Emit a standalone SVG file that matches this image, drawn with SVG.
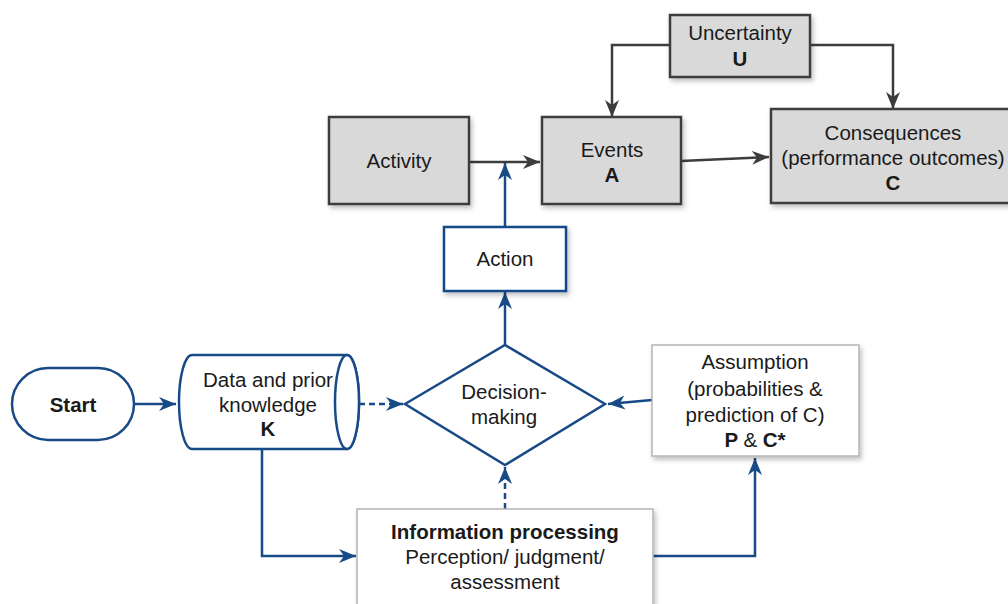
<svg xmlns="http://www.w3.org/2000/svg" width="1008" height="604" viewBox="0 0 1008 604">
<style>
text{font-family:"Liberation Sans",Arial,Helvetica,sans-serif;font-size:20.5px;fill:#1a1a1a;text-anchor:middle}
.b{font-weight:bold}
.gray{fill:#d9d9d9;stroke:#3c3c3c;stroke-width:2.5}
.blue{fill:#fff;stroke:#174a87;stroke-width:2.5}
.light{fill:#fff;stroke:#b4b4b4;stroke-width:1.5}
.cg{fill:none;stroke:#3c3c3c;stroke-width:2.5}
.cb{fill:none;stroke:#174a87;stroke-width:2.5}
.d{stroke-dasharray:6 4}
</style>
<defs>
<filter id="sh" x="-10%" y="-10%" width="130%" height="130%">
<feDropShadow dx="2" dy="3" stdDeviation="2.5" flood-color="#000" flood-opacity="0.25"/>
</filter>
<marker id="ag" markerUnits="userSpaceOnUse" markerWidth="18" markerHeight="16" refX="17" refY="8" orient="auto">
<path d="M0,1 L17,8 L0,15 L5,8 Z" fill="#3c3c3c"/>
</marker>
<marker id="ab" markerUnits="userSpaceOnUse" markerWidth="18" markerHeight="16" refX="17" refY="8" orient="auto">
<path d="M0,1 L17,8 L0,15 L5,8 Z" fill="#174a87"/>
</marker>
</defs>

<g id="connectors">
<path class="cg" d="M670,45 H612 V117" marker-end="url(#ag)"/>
<path class="cg" d="M810,45 H893 V109" marker-end="url(#ag)"/>
<path class="cg" d="M469,162 H540" marker-end="url(#ag)"/>
<path class="cg" d="M681,161 L769,157" marker-end="url(#ag)"/>
<path class="cb" d="M505,227 V163" stroke-width="2" marker-end="url(#ab)"/>
<path class="cb" d="M505,345 V292" marker-end="url(#ab)"/>
<path class="cb" d="M134,404 H176" marker-end="url(#ab)"/>
<path class="cb d" d="M359,404 H403" marker-end="url(#ab)"/>
<path class="cb" d="M652,400 L608,404" marker-end="url(#ab)"/>
<path class="cb d" d="M505,509 V467" marker-end="url(#ab)"/>
<path class="cb" d="M262,449 V556 H356" marker-end="url(#ab)"/>
<path class="cb" d="M653,556 H755 V458" marker-end="url(#ab)"/>
</g>

<g id="uncertainty">
<rect class="gray" x="670" y="15" width="140" height="62" filter="url(#sh)"/>
<text x="740" y="40">Uncertainty</text>
<text class="b" x="740" y="66">U</text>
</g>

<g id="activity">
<rect class="gray" x="329" y="117" width="140" height="87" filter="url(#sh)"/>
<text x="399" y="168">Activity</text>
</g>

<g id="events">
<rect class="gray" x="542" y="117" width="139" height="87" filter="url(#sh)"/>
<text x="612" y="157">Events</text>
<text class="b" x="612" y="182">A</text>
</g>

<g id="consequences">
<rect class="gray" x="771" y="109" width="244" height="94" filter="url(#sh)"/>
<text x="893" y="140">Consequences</text>
<text x="893" y="165">(performance outcomes)</text>
<text class="b" x="893" y="190">C</text>
</g>

<g id="action">
<rect class="blue" x="444" y="227" width="122" height="64" filter="url(#sh)"/>
<text x="505" y="266">Action</text>
</g>

<g id="start">
<rect class="blue" x="12" y="368" width="122" height="72" rx="36" ry="36"/>
<text class="b" x="73" y="412">Start</text>
</g>

<g id="data">
<path class="blue" d="M192,355 H347 A12,47 0 0 1 347,449 H192 A13,47 0 0 1 192,355 Z"/>
<ellipse class="blue" cx="347" cy="402" rx="12" ry="47"/>
<text x="268" y="387">Data and prior</text>
<text x="268" y="412">knowledge</text>
<text class="b" x="268" y="436">K</text>
</g>

<g id="decision">
<polygon class="blue" points="405,404 505,345 605,404 505,465"/>
<text x="504" y="399">Decision-</text>
<text x="504" y="424">making</text>
</g>

<g id="assumption">
<rect class="light" x="652" y="345" width="207" height="111" filter="url(#sh)"/>
<text x="755" y="369">Assumption</text>
<text x="755" y="396">(probabilities &amp;</text>
<text x="755" y="422">prediction of C)</text>
<text class="b" x="755" y="447">P <tspan font-weight="normal">&amp;</tspan> C*</text>
</g>

<g id="information">
<rect class="light" x="357" y="509" width="296" height="110" filter="url(#sh)"/>
<text class="b" x="505" y="539">Information processing</text>
<text x="505" y="564">Perception/ judgment/</text>
<text x="505" y="589">assessment</text>
</g>
</svg>
